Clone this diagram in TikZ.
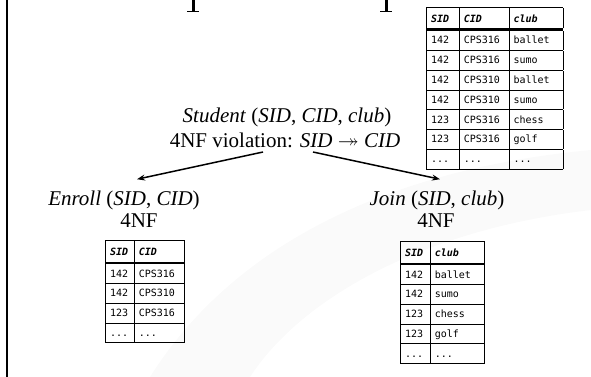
\documentclass[tikz,border=0pt]{standalone}
\usepackage{fontspec}
\usepackage{amssymb}
\usepackage{array}
\setmainfont{Liberation Serif}
\newfontfamily\cellfont{DejaVu Sans Mono}
\usetikzlibrary{arrows.meta}

% table cells: struts fix the row heights, header row gets a heavy rule
\newcommand{\hd}[1]{\textbf{\textit{#1}}}
\newcommand{\rowst}{\rule[-6pt]{0pt}{19pt}}
\newcommand{\headst}{\rule[-6pt]{0pt}{20.5pt}}
\newcommand{\heavyrule}{\noalign{\hrule height 2.5pt}}

\tikzset{
  heading/.style={font=\fontsize{21}{24}\selectfont, inner sep=0pt, anchor=base},
  relation/.style={inner sep=0pt, anchor=north west,
    font=\cellfont\fontsize{10}{11}\selectfont},
  split/.style={-{Stealth[length=8pt,width=6pt]}, line width=1.5pt},
  tail/.style={fill=black},
}

\begin{document}
\begin{tikzpicture}[x=1pt,y=-1pt]
\setlength\tabcolsep{4pt}
\setlength\arrayrulewidth{0.8pt}

\useasboundingbox (0,0) rectangle (591,377);

% faint swirl behind everything
\fill[black!2] (150,377) .. controls (230,250) and (380,170) .. (591,150)
  -- (591,210) .. controls (420,230) and (300,300) .. (250,377) -- cycle;

% slide edge and the tails of the title letters above
\draw[line width=2.6pt] (7,0) -- (7,377);
\fill[tail] (191.5,0) rectangle (194.5,12);
\fill[tail] (187,11) rectangle (199,12.5);
\fill[tail] (384.5,0) rectangle (387.5,12);
\fill[tail] (380,11) rectangle (392,12.5);

% the relation and its violation
\node[heading] (student) at (287,123) {\textit{Student} (\textit{SID}, \textit{CID}, \textit{club})};
\node[heading] (viol) at (285,147) {4NF violation: \textit{SID} $\twoheadrightarrow$ \textit{CID}};

\node[relation] (tstudent) at (426,7) {%
\begin{tabular}{|p{24pt}|p{41pt}|p{45pt}|}
\hline
\headst\hd{SID} & \hd{CID} & \hd{club}\\ \heavyrule
\rowst 142 & CPS316 & ballet\\ \hline
\rowst 142 & CPS316 & sumo\\ \hline
\rowst 142 & CPS310 & ballet\\ \hline
\rowst 142 & CPS310 & sumo\\ \hline
\rowst 123 & CPS316 & chess\\ \hline
\rowst 123 & CPS316 & golf\\ \hline
\rowst ... & ... & ...\\ \hline
\end{tabular}};

% decomposition
\node[heading] (enroll) at (124,205) {\textit{Enroll} (\textit{SID}, \textit{CID})};
\node[heading] (enrollnf) at (139,227) {4NF};
\node[heading] (join) at (437,205) {\textit{Join} (\textit{SID}, \textit{club})};
\node[heading] (joinnf) at (436,227) {4NF};

\draw[split] ([xshift=-22pt,yshift=-5pt]viol.base) -- ([xshift=13pt,yshift=11pt]enroll.north);
\draw[split] ([xshift=28pt,yshift=-5pt]viol.base) -- ([xshift=3pt,yshift=11pt]join.north);

\node[relation] (tenroll) at (105,240) {%
\begin{tabular}{|p{20pt}|p{41pt}|}
\hline
\headst\hd{SID} & \hd{CID}\\ \heavyrule
\rowst 142 & CPS316\\ \hline
\rowst 142 & CPS310\\ \hline
\rowst 123 & CPS316\\ \hline
\rowst ... & ...\\ \hline
\end{tabular}};

\node[relation] (tjoin) at (400,241) {%
\begin{tabular}{|p{21pt}|p{45pt}|}
\hline
\headst\hd{SID} & \hd{club}\\ \heavyrule
\rowst 142 & ballet\\ \hline
\rowst 142 & sumo\\ \hline
\rowst 123 & chess\\ \hline
\rowst 123 & golf\\ \hline
\rowst ... & ...\\ \hline
\end{tabular}};

\end{tikzpicture}
\end{document}
